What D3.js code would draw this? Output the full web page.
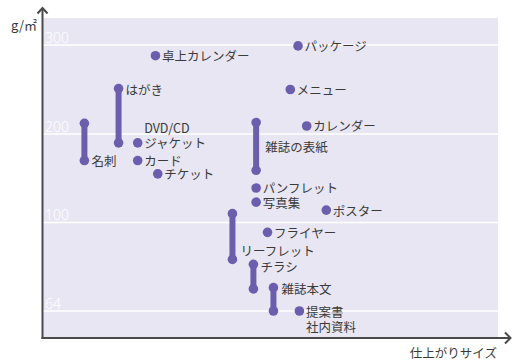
<!DOCTYPE html>
<html><head><meta charset="utf-8">
<script src="https://cdn.jsdelivr.net/npm/d3@7"></script>
<style>
html,body{margin:0;padding:0;background:#fff;}
svg{display:block;font-family:"Noto Sans CJK JP","Noto Sans",sans-serif;}
</style></head>
<body>
<svg id="chart" width="514" height="361"></svg>
<script>
// ---- data ----
const yTicks = [64, 100, 200, 300];
const yUnit = "g/㎡";
const xTitle = "仕上がりサイズ";

// single-value items
const pointNames  = ["卓上カレンダー", "パッケージ", "メニュー", "DVD/CD\nジャケット", "カード", "チケット", "カレンダー", "パンフレット", "写真集", "ポスター", "フライヤー", "提案書\n社内資料"];
const pointSizes  = [24.8, 56.1, 54.4, 20.9, 20.9, 25.3, 58.0, 46.9, 46.9, 62.3, 49.4, 56.4];
const pointWeight = [288, 299, 250, 190, 170, 155, 209, 139, 123, 114, 96, 64];

// range items
const rangeNames = ["名刺", "はがき", "雑誌の表紙", "リーフレット", "チラシ", "雑誌本文"];
const rangeSizes = [9.2, 16.7, 46.9, 41.7, 46.3, 50.7];
const rangeLow   = [170, 190, 159, 85, 73, 64];
const rangeHigh  = [212, 251, 213, 110, 83, 73.5];

// ---- label layout (presentation only) ----
const pointLabelAnchorLine = {"DVD/CD\nジャケット": 1, "提案書\n社内資料": 0};
const rangeLabelPlace = {
  "名刺": {at: "low", dx: 7, dy: 0},
  "はがき": {at: "high", dx: 7, dy: 1},
  "雑誌の表紙": {at: "mid", dx: 9, dy: 0},
  "リーフレット": {at: "low", dx: 8, dy: -9},
  "チラシ": {at: "high", dx: 7, dy: 2},
  "雑誌本文": {at: "high", dx: 8, dy: 1}
};

// ---- drawing ----
const svg = d3.select("#chart");
const plot = {left: 43, right: 498, top: 18, bottom: 337};
const axisX = 42.5, axisY = 338;
const purple = "#6b5ead";
const textCol = "#3a3a3a";

const x = d3.scaleLinear().domain([0, 100]).range([axisX, plot.right + (plot.right - axisX) * 0.0]);
const y = d3.scaleLinear().domain(yTicks).range([311, 222.5, 134, 45]);

svg.append("rect")
  .attr("x", plot.left).attr("y", plot.top)
  .attr("width", plot.right - plot.left).attr("height", plot.bottom - plot.top)
  .attr("fill", "#e8e6f3");

// gridlines and tick labels
const grid = svg.append("g");
grid.selectAll("line").data(yTicks).join("line")
  .attr("x1", plot.left).attr("x2", plot.right)
  .attr("y1", d => y(d)).attr("y2", d => y(d))
  .attr("stroke", "#ffffff").attr("stroke-width", 1.5);
grid.selectAll("text").data(yTicks).join("text")
  .attr("x", 45).attr("y", d => y(d) - 2.5)
  .attr("fill", "#ffffff").attr("font-size", 14)
  .attr("font-family", "'Noto Sans', sans-serif")
  .attr("font-weight", 300)
  .text(d => d);

// axes
const axisCol = "#4a4a4a";
svg.append("line").attr("x1", axisX).attr("x2", axisX).attr("y1", 8).attr("y2", axisY + 1)
  .attr("stroke", axisCol).attr("stroke-width", 2);
svg.append("line").attr("x1", axisX - 1).attr("x2", 510).attr("y1", axisY).attr("y2", axisY)
  .attr("stroke", axisCol).attr("stroke-width", 2);
svg.append("path").attr("d", `M${axisX - 5},13.5 L${axisX},8 L${axisX + 5},13.5`)
  .attr("fill", "none").attr("stroke", axisCol).attr("stroke-width", 2);
svg.append("path").attr("d", `M505,${axisY - 5.5} L510.5,${axisY} L505,${axisY + 5.5}`)
  .attr("fill", "none").attr("stroke", axisCol).attr("stroke-width", 2);

svg.append("text").attr("x", 37).attr("y", 24).attr("text-anchor", "end")
  .attr("dominant-baseline", "central")
  .attr("fill", textCol).attr("font-size", 13).text(yUnit);
svg.append("text").attr("x", 497).attr("y", 352).attr("text-anchor", "end")
  .attr("dominant-baseline", "central")
  .attr("fill", textCol).attr("font-size", 12.5).text(xTitle);

// ranges
const ranges = rangeNames.map((n, i) => ({name: n, size: rangeSizes[i], lo: rangeLow[i], hi: rangeHigh[i]}));
const rg = svg.append("g");
rg.selectAll("line").data(ranges).join("line")
  .attr("x1", d => x(d.size)).attr("x2", d => x(d.size))
  .attr("y1", d => y(d.hi)).attr("y2", d => y(d.lo))
  .attr("stroke", purple).attr("stroke-width", 6);
rg.selectAll("circle.hi").data(ranges).join("circle").attr("class", "hi")
  .attr("cx", d => x(d.size)).attr("cy", d => y(d.hi)).attr("r", 4.8).attr("fill", purple);
rg.selectAll("circle.lo").data(ranges).join("circle").attr("class", "lo")
  .attr("cx", d => x(d.size)).attr("cy", d => y(d.lo)).attr("r", 4.8).attr("fill", purple);
rg.selectAll("text").data(ranges).join("text")
  .attr("x", d => x(d.size) + rangeLabelPlace[d.name].dx)
  .attr("y", d => {
    const p = rangeLabelPlace[d.name];
    const v = p.at === "low" ? y(d.lo) : p.at === "high" ? y(d.hi) : (y(d.lo) + y(d.hi)) / 2;
    return v + p.dy;
  })
  .attr("dominant-baseline", "central")
  .attr("fill", textCol).attr("font-size", 12.5)
  .text(d => d.name);

// points
const points = pointNames.map((n, i) => ({name: n, size: pointSizes[i], w: pointWeight[i]}));
const pg = svg.append("g");
pg.selectAll("circle").data(points).join("circle")
  .attr("cx", d => x(d.size)).attr("cy", d => y(d.w)).attr("r", 4.8).attr("fill", purple);
pg.selectAll("text").data(points).join("text")
  .attr("x", d => x(d.size) + 6.5)
  .attr("y", d => y(d.w))
  .attr("fill", textCol).attr("font-size", 12.5)
  .each(function(d) {
    const lines = d.name.split("\n");
    const anchor = pointLabelAnchorLine[d.name] || 0;
    const t = d3.select(this);
    lines.forEach((ln, k) => {
      t.append("tspan")
        .attr("x", x(d.size) + 6.5)
        .attr("y", y(d.w) + (k - anchor) * 15.5)
        .attr("dominant-baseline", "central")
        .text(ln);
    });
  });
</script>
</body></html>
